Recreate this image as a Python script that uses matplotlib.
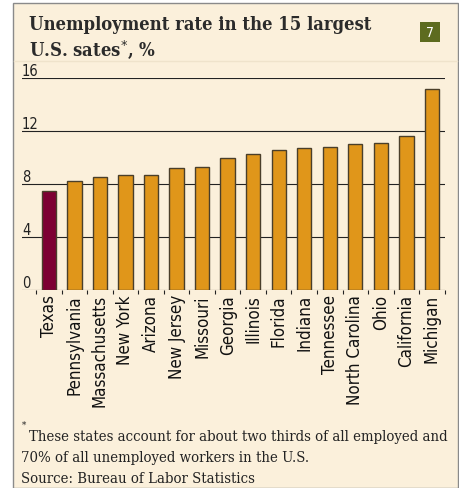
import matplotlib
matplotlib.use("Agg")
import matplotlib.pyplot as plt
from matplotlib.patches import Rectangle

# ------------------------------------------------------------------ #
#  Data
# ------------------------------------------------------------------ #
states = ["Texas", "Pennsylvania", "Massachusetts", "New York", "Arizona",
          "New Jersey", "Missouri", "Georgia", "Illinois", "Florida",
          "Indiana", "Tennessee", "North Carolina", "Ohio", "California",
          "Michigan"]
rates = [7.5, 8.2, 8.5, 8.7, 8.7, 9.2, 9.3, 10.0, 10.3, 10.6,
         10.7, 10.8, 11.0, 11.1, 11.6, 15.2]
yticks = [0, 4, 8, 12, 16]

BG = "#FBF0DB"
ORANGE = "#E0961A"
MAROON = "#7D0033"
INK = "#222222"

W, H = 460, 489
fig = plt.figure(figsize=(W / 100, H / 100), dpi=100)
fig.patch.set_facecolor("white")

# cream panel with grey frame
fig.patches.append(Rectangle((13 / W, 0), (458 - 13) / W, (489 - 4) / H,
                             transform=fig.transFigure, facecolor=BG,
                             edgecolor="#8a8a8a", linewidth=1.0, zorder=-5))
fig.lines.append(plt.Line2D([14 / W, 457 / W], [1 - 62 / H] * 2, transform=fig.transFigure,
                            color="#efe3cb", linewidth=1.0, zorder=-4))

ax = fig.add_axes([22 / W, 1 - 291 / H, (445 - 22) / W, (291 - 79) / H])
ax.set_facecolor("none")
n = len(states)
x = list(range(n))
colors = [MAROON] + [ORANGE] * (n - 1)
ax.bar(x, rates, width=0.56, color=colors, edgecolor="#4a3f2a", linewidth=1.0, zorder=3)

sans = dict(family="DejaVu Sans", stretch="condensed")
for v in yticks:
    ax.axhline(v, color=INK, linewidth=0.8, zorder=1)
    ax.text(0, v, str(v), transform=ax.get_yaxis_transform(), ha="left", va="bottom",
            fontsize=10.5, color=INK, **sans)

ax.set_xlim(-1.05, 15.51)
ax.set_ylim(0, 16)
for s in ax.spines.values():
    s.set_visible(False)
ax.set_yticks([])
ax.set_xticks([i - 0.5 for i in range(n + 1)], minor=True)
ax.set_xticks(x)
ax.set_xticklabels(states, rotation=90, fontsize=12.2, color="#111111", **sans)
ax.tick_params(axis="x", which="major", length=0, pad=3)
ax.tick_params(axis="x", which="minor", length=3, color=INK, width=0.8)

# title
serif_b = dict(family="DejaVu Serif", stretch="condensed", weight="bold", color="#2b2b2b")
fig.text(29 / W, 1 - 25 / H, "Unemployment rate in the 15 largest", fontsize=13.2,
         va="center", **serif_b)
fig.text(29 / W, 1 - 50 / H, "U.S. sates$^{*}$, %", fontsize=13.2, va="center", **serif_b)

# badge
fig.patches.append(Rectangle((420 / W, 1 - 43 / H), 20 / W, 20 / H, transform=fig.transFigure,
                             facecolor="#5d6b1f", edgecolor="none", zorder=2))
fig.text(430 / W, 1 - 33 / H, "7", color="white", fontsize=10, ha="center", va="center", **sans)

# footnote
serif = dict(family="DejaVu Serif", stretch="condensed", color=INK)
fig.text(22 / W, 1 - 425 / H, "*", fontsize=7, va="center", **serif)
foot = ["These states account for about two thirds of all employed and",
        "70% of all unemployed workers in the U.S.",
        "Source: Bureau of Labor Statistics"]
fig.text(29 / W, 1 - 437 / H, foot[0], fontsize=10.7, va="center", **serif)
fig.text(21 / W, 1 - 458 / H, foot[1], fontsize=10.7, va="center", **serif)
fig.text(21 / W, 1 - 479 / H, foot[2], fontsize=10.7, va="center", **serif)

fig.savefig("out.png", dpi=100, facecolor=fig.get_facecolor())
